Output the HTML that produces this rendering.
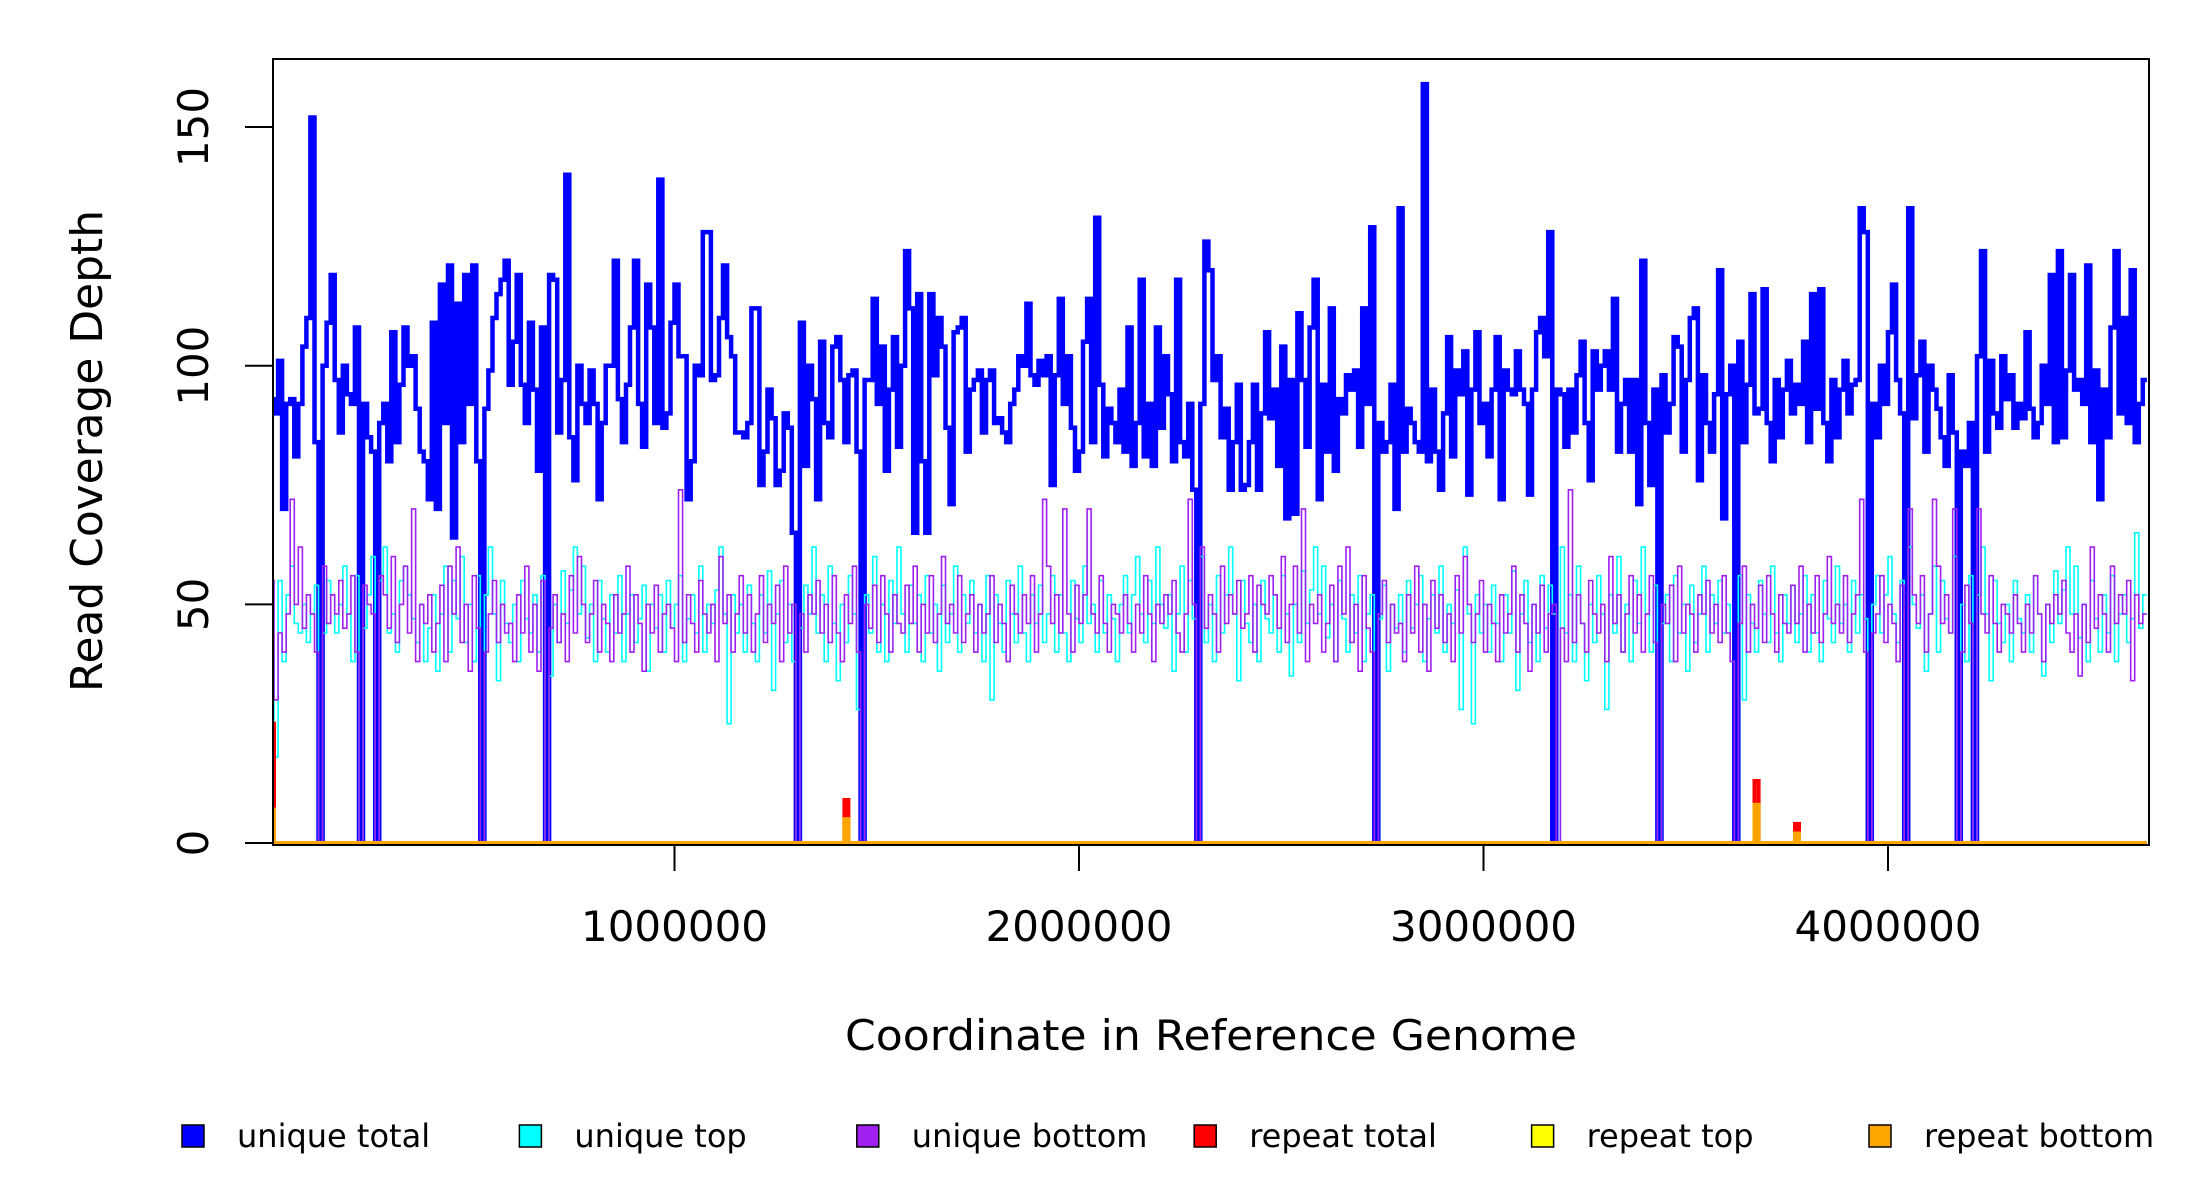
<!DOCTYPE html>
<html><head><meta charset="utf-8"><style>
html,body{margin:0;padding:0;background:#fff;}
svg{display:block;font-family:"DejaVu Sans","Liberation Sans",sans-serif;}
</style></head><body>
<svg id="chart" width="2200" height="1200" viewBox="0 0 2200 1200">
<defs><clipPath id="pc"><rect x="273" y="59" width="1876" height="786"/></clipPath></defs>
<g id="marks" clip-path="url(#pc)"></g>
<rect x="273" y="59" width="1876" height="786" fill="none" stroke="#000" stroke-width="2"/>
<g id="axes"></g>
<text x="1211" y="1050" font-size="42" text-anchor="middle" textLength="732" lengthAdjust="spacingAndGlyphs">Coordinate in Reference Genome</text>
<text transform="translate(102,451) rotate(-90)" font-size="44" text-anchor="middle" textLength="482" lengthAdjust="spacingAndGlyphs">Read Coverage Depth</text>
<g id="legend"></g>
</svg>
<script>
const genomeLength = 4640000;
const binSize = 10000;
const xTicks = [1000000, 2000000, 3000000, 4000000];
const xTickLabels = ["1000000", "2000000", "3000000", "4000000"];
const yTicks = [0, 50, 100, 150];
const yTickLabels = ["0", "50", "100", "150"];
const uniqueTotal = [
93,90,101,70,92,93,81,92,104,110,152,84,0,100,109,119,97,86,100,94,92,108,0,92,85,82,0,88,92,80,107,84,96,108,100,102,91,82,80,72,
109,70,117,88,121,64,113,84,119,92,121,80,0,91,99,110,115,118,122,96,105,119,96,88,109,95,78,108,0,119,118,86,97,140,85,76,100,92,88,99,
92,72,88,100,100,122,93,84,96,108,122,92,83,117,108,88,139,87,90,109,117,102,102,72,80,100,98,128,128,97,98,110,121,106,102,86,86,85,88,112,
112,75,82,95,89,75,78,90,87,65,0,109,79,100,93,72,105,88,85,104,106,97,84,98,99,82,0,97,97,114,92,104,78,95,106,83,100,124,112,65,
115,80,65,115,98,110,104,87,71,107,108,110,82,95,97,99,86,97,99,88,89,86,84,92,95,102,100,113,98,96,101,98,102,75,98,114,92,102,87,78,
82,105,114,84,131,96,81,91,88,84,95,82,108,79,88,118,81,92,79,108,87,102,94,80,118,84,81,92,74,0,92,126,120,97,102,85,91,74,84,96,
74,75,84,96,74,90,107,89,95,79,104,68,97,69,111,97,83,108,118,72,96,82,112,78,93,90,98,95,99,83,112,92,129,0,88,82,84,96,70,133,
82,91,88,84,82,159,80,95,82,74,90,106,81,99,94,103,73,95,107,88,92,81,95,106,72,99,95,94,103,95,92,73,95,107,110,102,128,0,95,94,
83,95,86,98,105,88,76,103,95,100,103,95,114,82,92,97,82,97,71,122,88,75,95,0,98,86,92,106,104,82,97,110,112,76,98,88,82,94,120,68,
94,100,0,105,84,96,115,90,91,116,88,80,97,85,95,101,90,96,92,105,84,115,91,116,88,80,97,85,95,101,90,96,97,133,128,0,92,85,100,92,
107,117,97,90,0,133,89,98,105,82,100,95,91,85,79,98,86,0,82,79,88,0,102,124,82,101,90,87,102,93,98,87,92,89,107,91,85,88,100,92,
119,84,124,85,99,119,95,97,92,121,84,99,72,95,85,108,124,90,110,88,120,84,92,97];
const uniqueTop = [
40,18,55,38,52,58,46,44,50,42,48,54,0,44,55,52,44,50,58,48,38,56,0,45,52,60,0,55,62,44,48,40,55,58,52,47,42,50,38,45,
52,36,48,58,40,55,47,60,42,50,38,56,0,52,62,48,34,55,46,42,50,38,55,47,44,52,40,56,0,35,50,42,57,46,53,62,48,58,43,50,
38,55,47,40,52,44,56,38,48,52,42,47,54,36,50,45,52,40,55,45,50,56,38,47,52,44,58,40,50,46,53,62,48,25,52,44,50,40,54,46,
38,52,44,57,32,48,55,42,50,38,0,45,54,48,62,44,52,38,58,46,34,50,42,56,48,28,0,52,44,60,40,50,38,55,46,62,48,40,54,46,
52,38,56,44,50,36,54,42,48,58,40,52,46,55,44,50,38,56,30,52,46,40,55,48,42,58,44,38,52,46,54,42,48,56,40,52,44,38,55,47,
42,58,46,50,40,55,44,52,47,38,50,56,44,52,60,48,42,55,46,62,50,45,52,36,48,58,40,55,47,0,60,42,50,38,56,44,52,62,48,34,
55,46,42,50,38,55,47,44,52,40,56,48,35,50,42,57,46,53,62,48,58,43,50,38,55,47,40,52,44,56,38,48,52,0,47,54,36,50,45,52,
40,55,45,50,56,38,47,52,44,58,40,50,46,53,28,62,48,25,52,44,50,40,54,46,38,52,44,57,32,48,55,42,50,38,56,45,54,48,0,62,
44,52,38,58,46,34,50,42,56,48,28,52,44,60,40,50,38,55,46,62,48,40,54,0,46,52,38,56,44,50,36,54,42,48,58,40,52,46,55,44,
50,38,0,56,30,52,46,40,55,48,42,58,44,38,52,46,54,42,48,56,40,52,44,38,55,47,42,58,46,50,40,55,44,52,47,0,50,56,44,52,
60,48,42,55,0,62,50,45,52,36,48,58,40,55,47,44,60,0,50,38,56,0,52,62,48,34,55,46,42,50,38,55,47,44,52,40,56,48,35,50,
42,57,46,53,62,48,58,43,50,38,55,47,40,52,44,56,38,48,52,42,47,65,45,52];
const uniqueBottom = [
55,30,44,40,48,72,50,62,45,52,48,40,0,58,46,52,48,55,45,48,56,40,0,54,50,48,0,56,52,45,60,42,50,58,44,70,38,50,46,52,
40,46,54,38,58,48,62,42,50,36,56,45,0,40,48,55,42,50,44,46,38,52,44,58,40,50,36,55,0,45,52,42,48,38,56,44,60,50,42,48,
55,40,50,46,38,52,44,48,58,40,52,46,36,50,44,54,40,48,50,45,38,74,42,52,46,40,55,48,44,50,38,60,46,52,40,48,56,44,52,40,
48,56,42,50,46,54,38,58,44,50,0,48,40,52,48,55,44,50,42,56,44,38,52,46,58,40,0,50,45,54,42,56,48,40,52,46,44,54,46,58,
40,50,44,56,42,48,60,46,50,44,56,42,48,52,40,50,44,48,56,42,50,46,38,54,48,44,52,46,56,40,48,72,58,46,52,44,70,48,40,54,
46,52,70,48,44,56,46,40,50,48,44,52,46,40,50,44,56,48,38,50,46,52,48,55,44,40,48,72,50,0,62,45,52,48,40,58,46,52,48,55,
45,48,56,40,54,50,48,56,52,45,60,42,50,58,44,70,38,50,46,52,40,46,54,38,58,48,62,42,50,36,56,45,40,0,48,55,42,50,44,46,
38,52,44,58,40,50,36,55,45,52,42,48,38,56,44,60,50,42,48,55,40,50,46,38,52,44,48,58,40,52,46,36,50,44,54,40,48,50,0,45,
38,74,42,52,46,40,55,48,44,50,38,60,46,52,40,48,56,44,52,40,48,56,42,0,50,46,54,38,58,44,50,48,40,52,48,55,44,50,42,56,
44,38,0,46,58,40,50,45,54,42,56,48,40,52,46,44,54,46,58,40,50,44,56,42,48,60,46,50,44,56,42,48,52,72,40,0,44,48,56,42,
50,46,38,54,0,70,52,46,56,40,48,72,58,46,52,44,70,0,40,54,46,0,70,48,44,56,46,40,50,48,44,52,46,40,50,44,56,48,38,50,
46,52,48,55,44,40,48,35,50,42,62,45,52,48,40,58,46,52,48,55,34,52,46,48];
const repeatBins = [0, 142, 367, 377];
const repeatTotalVals = [25, 9, 13, 4];
const repeatTopVals = [0, 0, 0, 0];
const repeatBottomVals = [7, 5, 8, 2];

const NS = "http://www.w3.org/2000/svg";
const X0 = 273, X1 = 2149, Y0 = 843, Ytop = 59;
function xs(v){ return 674.5 + (v - 1000000) * 404.5e-6; }
function ys(v){ return Y0 - v * 4.773; }
function mk(tag, attrs, parent){ const e = document.createElementNS(NS, tag); for (const k in attrs) e.setAttribute(k, attrs[k]); parent.appendChild(e); return e; }

function stepPath(vals){
  let d = "";
  for (let i = 0; i < vals.length; i++){
    const xa = xs(i * binSize), xb = xs(Math.min((i + 1) * binSize, genomeLength)), y = ys(vals[i]);
    d += (i === 0 ? "M" : "L") + xa.toFixed(1) + "," + y.toFixed(1) + "L" + xb.toFixed(1) + "," + y.toFixed(1);
  }
  return d;
}
function sparseToFull(bins, vals){
  const n = Math.ceil(genomeLength / binSize), out = new Array(n).fill(0);
  bins.forEach((b, j) => { out[b] = vals[j]; });
  return out;
}
const marks = document.getElementById("marks");
const series = [
  [uniqueTotal, "#0000ff", 4.5, "unique-total-line"],
  [uniqueTop, "#00ffff", 1.6, "unique-top-line"],
  [uniqueBottom, "#a020f0", 1.6, "unique-bottom-line"],
  [sparseToFull(repeatBins, repeatTotalVals), "#ff0000", 4, "repeat-total-line"],
  [sparseToFull(repeatBins, repeatTopVals), "#ffff00", 2, "repeat-top-line"],
  [sparseToFull(repeatBins, repeatBottomVals), "#ffa500", 4, "repeat-bottom-line"]
];
series.forEach(s => {
  const p = mk("path", {d: stepPath(s[0]), fill: "none", stroke: s[1], "stroke-width": s[2], "stroke-linejoin": "miter"}, marks);
  
  
});

const axes = document.getElementById("axes");
xTicks.forEach((t, i) => {
  const x = xs(t);
  const l = mk("line", {x1: x, x2: x, y1: Y0 + 2, y2: Y0 + 28, stroke: "#000", "stroke-width": 2}, axes);
  
  
  const tx = mk("text", {x: x, y: 941, "font-size": 42, "text-anchor": "middle"}, axes);
  tx.textContent = xTickLabels[i];
  
  
});
yTicks.forEach((t, i) => {
  const y = ys(t);
  const l = mk("line", {x1: X0 - 28, x2: X0, y1: y, y2: y, stroke: "#000", "stroke-width": 2}, axes);
  
  
  const tx = mk("text", {transform: "translate(208," + y + ") rotate(-90)", "font-size": 42, "text-anchor": "middle"}, axes);
  tx.textContent = yTickLabels[i];
  
  
});

const legendLabels = ["unique total", "unique top", "unique bottom", "repeat total", "repeat top", "repeat bottom"];
const legendColors = ["#0000ff", "#00ffff", "#a020f0", "#ff0000", "#ffff00", "#ffa500"];
const lg = document.getElementById("legend");
legendLabels.forEach((lab, i) => {
  const cx = 193 + i * 337.4;
  const r = mk("rect", {x: cx - 11, y: 1125, width: 22, height: 22, fill: legendColors[i], stroke: "#000", "stroke-width": 1.5}, lg);
  
  
  const t = mk("text", {x: cx + 44, y: 1147, "font-size": 32}, lg);
  t.textContent = lab;
  
  
});
</script>
</body></html>
